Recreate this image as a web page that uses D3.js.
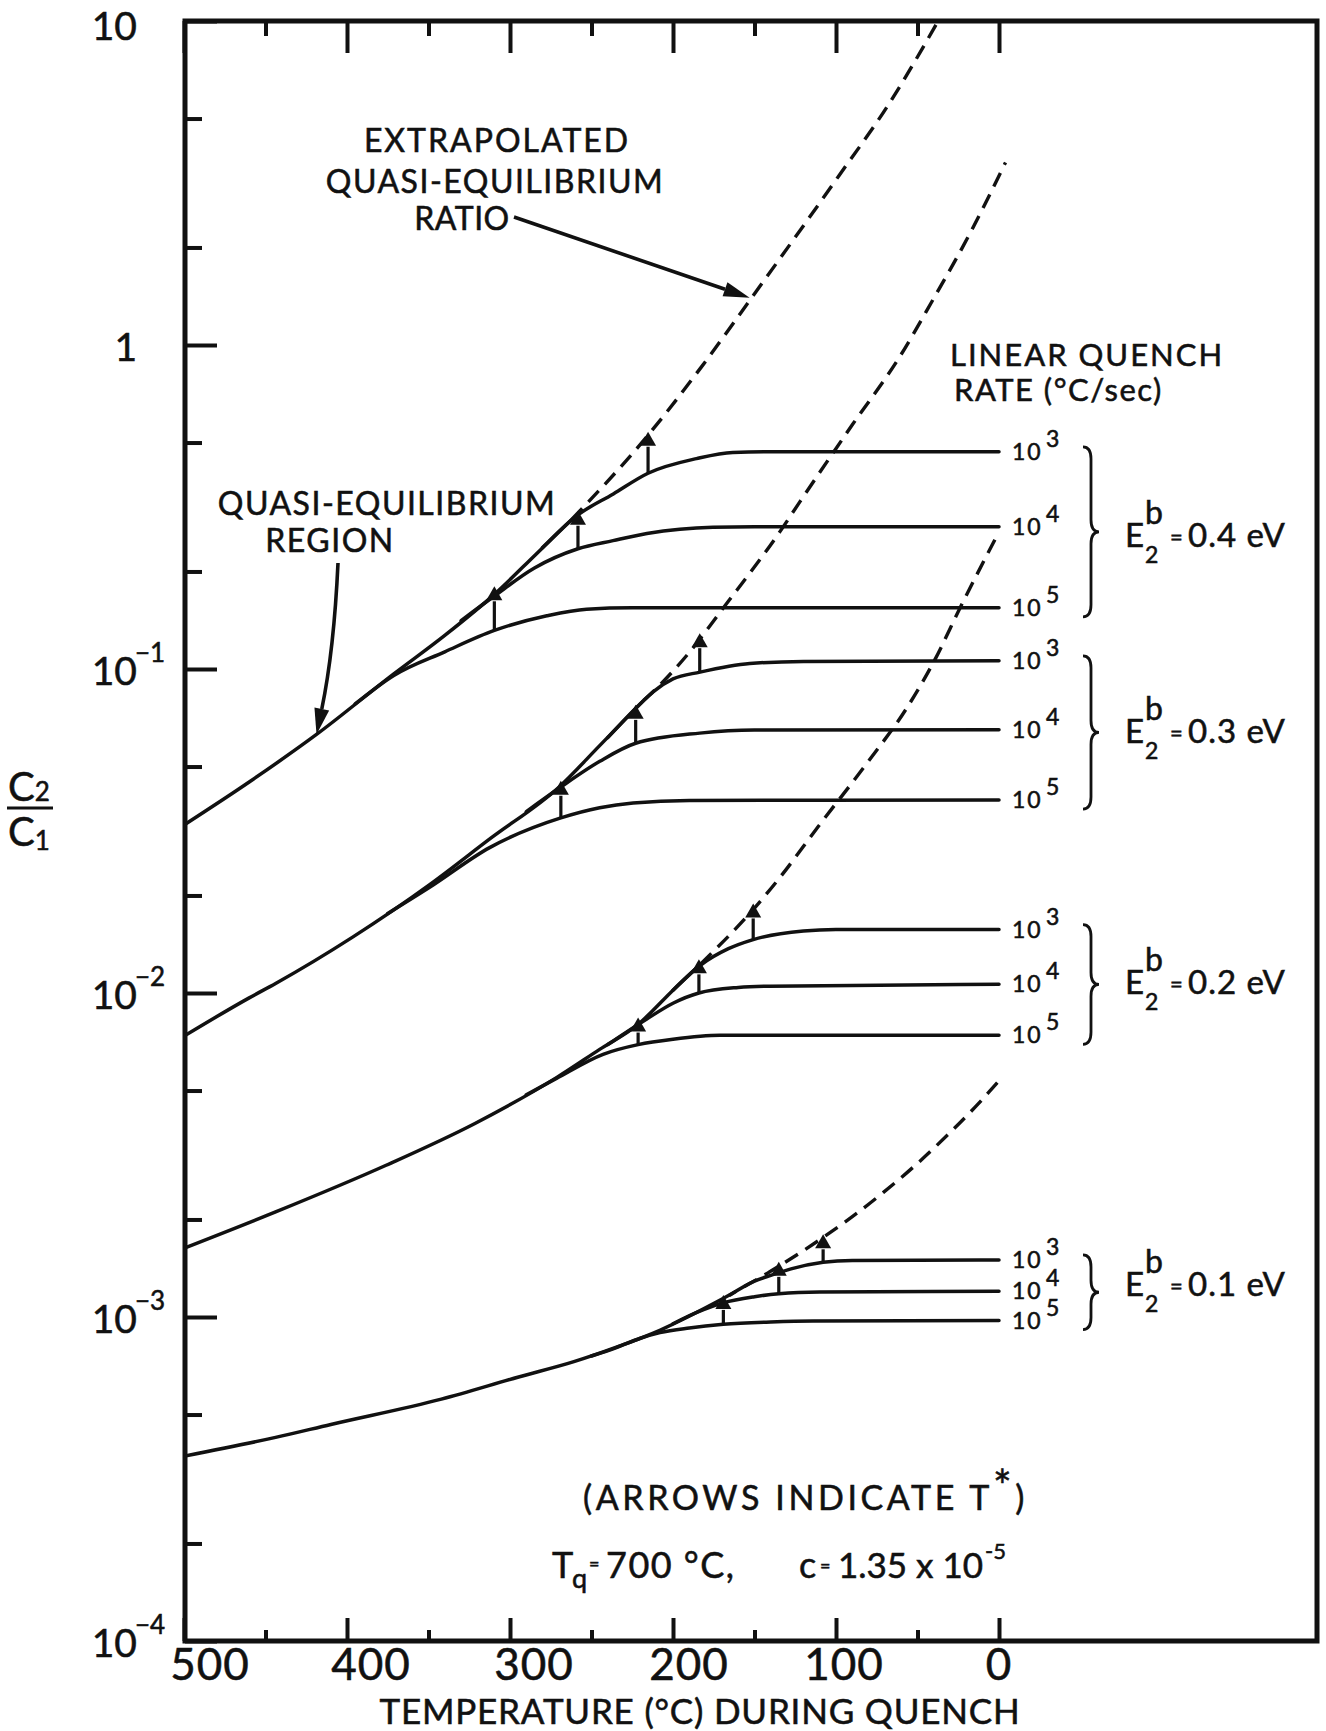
<!DOCTYPE html>
<html>
<head>
<meta charset="utf-8">
<title>C2/C1 during linear quench</title>
<script src="https://cdn.jsdelivr.net/npm/d3@7/dist/d3.min.js"></script>
<style>
  html, body { margin: 0; background: #fff; }
  svg { display: block; }
  text { font-family: Lato, "Open Sans", "DejaVu Sans", sans-serif; fill: #111; stroke: #111; stroke-width: 0.55; }
</style>
</head>
<body>
<svg id="chart" width="1326" height="1731"></svg>
<script>
// Temperature during quench (°C) against the concentration ratio C2/C1 (log scale)
const xMajorTicks = [500, 400, 300, 200, 100, 0];
const xMinorTicks = [450, 350, 250, 150, 50];
const yDecadeTicks = [1e-4, 1e-3, 1e-2, 1e-1, 1, 10];
const yDecadeLabels = [["10", "−4"], ["10", "−3"], ["10", "−2"], ["10", "−1"], ["1", ""], ["10", ""]];
const yMinorTicks = [2e-4, 5e-4, 2e-3, 5e-3, 2e-2, 5e-2, 0.2, 0.5, 2, 5];

const bindingEnergies = ["0.4", "0.3", "0.2", "0.1"];   // E2b in eV
const rateExponents = ["3", "4", "5"];                  // quench rate 10^n °C/sec

// --- E2b = 0.4 eV ---
const qeSolid04 = [[500, 0.0330], [460, 0.0448], [418.7, 0.0628], [371.3, 0.0966], [340, 0.127], [309.6, 0.170], [284.5, 0.225], [262, 0.290]];
const qeDash04 = [[262, 0.290], [216.8, 0.516], [183, 0.85], [149.1, 1.46], [98.2, 3.33], [68, 5.5], [37.3, 10]];
const rate3_04 = [[280, 0.237], [259.5, 0.296], [236.6, 0.347], [215.3, 0.402], [185.6, 0.446], [163.3, 0.466], [140, 0.468], [0, 0.468]];
const rate4_04 = [[330, 0.141], [309.6, 0.168], [285, 0.205], [258.3, 0.235], [236.8, 0.249], [216, 0.262], [175.5, 0.274], [150, 0.2748], [0, 0.2748]];
const rate5_04 = [[395, 0.078], [371.3, 0.0955], [340, 0.113], [309.6, 0.1315], [277.4, 0.146], [253, 0.153], [225, 0.1545], [0, 0.1545]];
const arrows04 = [[309.6, 0.1315, 0.180], [258.3, 0.235, 0.308], [215.3, 0.402, 0.54]];

// --- E2b = 0.3 eV ---
const qeSolid03 = [[500, 0.00736], [460, 0.00966], [443.8, 0.0107], [396.3, 0.0149], [349.3, 0.0216], [312, 0.0300], [269.5, 0.0434], [245, 0.058], [218, 0.080]];
const qeDash03 = [[218, 0.080], [210.2, 0.0871], [189.7, 0.113], [169.3, 0.154], [134.5, 0.265], [122.2, 0.328], [90, 0.567], [60.9, 0.92], [41.4, 1.355], [17, 2.25], [-4, 3.66]];
const rate3_03 = [[240, 0.0614], [220.2, 0.0780], [212, 0.0852], [200, 0.0932], [183.4, 0.0978], [152.9, 0.104], [120, 0.1055], [0, 0.106]];
const rate4_03 = [[290, 0.0363], [269.5, 0.0430], [244.9, 0.0519], [222.9, 0.0590], [183.6, 0.0634], [150, 0.0648], [0, 0.0649]];
const rate5_03 = [[375, 0.0176], [349.3, 0.0212], [312.5, 0.0281], [268.8, 0.0347], [245, 0.0373], [224.5, 0.0386], [190, 0.0393], [0, 0.0394]];
const arrows03 = [[268.8, 0.0347, 0.0452], [222.9, 0.0590, 0.0775], [183.6, 0.0978, 0.129]];

// --- E2b = 0.2 eV ---
const qeSolid02 = [[500, 0.00163], [443.8, 0.00211], [376, 0.00294], [321.8, 0.00395], [271.5, 0.00548], [245, 0.0067], [221.4, 0.0080], [200, 0.0102], [183, 0.0123]];
const qeDash02 = [[183, 0.0123], [150.8, 0.0181], [134.5, 0.0227], [111, 0.0326], [80, 0.052], [56.7, 0.0756], [39.4, 0.1067], [24, 0.154], [0, 0.265]];
const rate3_02 = [[200, 0.0102], [183, 0.0122], [166, 0.0137], [150.8, 0.01462], [120, 0.01553], [100, 0.0157], [0, 0.0157]];
const rate4_02 = [[240, 0.00693], [216.3, 0.0083], [200, 0.0093], [184.1, 0.0100], [160, 0.0104], [140.6, 0.0105], [0, 0.01064]];
const rate5_02 = [[290, 0.00485], [271.5, 0.00545], [242.9, 0.00647], [221.4, 0.00693], [200, 0.0072], [171.3, 0.0074], [0, 0.0074]];
const arrows02 = [[221.4, 0.00693, 0.0084], [184.1, 0.0100, 0.0127], [150.8, 0.01462, 0.0189]];

// --- E2b = 0.1 eV ---
const qeSolid01 = [[500, 3.72e-4], [443.8, 4.25e-4], [409.9, 4.66e-4], [342.1, 5.58e-4], [294.7, 6.53e-4], [260.8, 7.28e-4], [234.7, 8.07e-4], [208.1, 9.1e-4], [169.3, 1.14e-3]];
const qeDash01 = [[169.3, 1.14e-3], [134.5, 1.44e-3], [107.9, 1.76e-3], [90, 2.04e-3], [71.1, 2.42e-3], [50, 2.98e-3], [30, 3.71e-3], [13.8, 4.49e-3], [-1.7, 5.48e-3]];
const rate3_01 = [[165, 1.17e-3], [150, 1.29e-3], [140, 1.345e-3], [127, 1.41e-3], [107.9, 1.475e-3], [90, 1.495e-3], [0, 1.50e-3]];
const rate4_01 = [[200, 9.53e-4], [185, 1.035e-3], [169.1, 1.106e-3], [150, 1.155e-3], [135.1, 1.18e-3], [110, 1.195e-3], [0, 1.20e-3]];
const rate5_01 = [[250, 7.58e-4], [234.7, 8.05e-4], [220, 8.6e-4], [208, 8.95e-4], [190, 9.25e-4], [169.1, 9.49e-4], [140, 9.65e-4], [114, 9.72e-4], [0, 9.75e-4]];
const arrows01 = [[169.1, 9.49e-4, 1.17e-3], [135.1, 1.18e-3, 1.48e-3], [107.9, 1.475e-3, 1.80e-3]];

const families = [
  { e: bindingEnergies[0], qeSolid: qeSolid04, qeDash: qeDash04, rates: [rate3_04, rate4_04, rate5_04], arrows: arrows04, eShift: 20 },
  { e: bindingEnergies[1], qeSolid: qeSolid03, qeDash: qeDash03, rates: [rate3_03, rate4_03, rate5_03], arrows: arrows03, eShift: 13 },
  { e: bindingEnergies[2], qeSolid: qeSolid02, qeDash: qeDash02, rates: [rate3_02, rate4_02, rate5_02], arrows: arrows02, eShift: 10 },
  { e: bindingEnergies[3], qeSolid: qeSolid01, qeDash: qeDash01, rates: [rate3_01, rate4_01, rate5_01], arrows: arrows01, eShift: 5 }
];

// ---------- layout ----------
const frame = { left: 185, right: 1317, top: 21, bottom: 1641 };
const ink = "#111";
const x = d3.scaleLinear().domain([500, 0]).range([184, 999]);
const y = d3.scaleLog().domain([1e-4, 10]).range([1641, 21]);

const svg = d3.select("#chart");
svg.append("rect").attr("width", 1326).attr("height", 1731).attr("fill", "#fff");

svg.append("defs").append("clipPath").attr("id", "plotClip")
  .append("rect")
  .attr("x", frame.left).attr("y", frame.top)
  .attr("width", frame.right - frame.left).attr("height", frame.bottom - frame.top);

// ---------- axes ----------
function tickAxis(axis, transform, size, values) {
  const g = svg.append("g").attr("transform", transform)
    .call(axis.tickValues(values).tickSize(size).tickFormat(""));
  g.select(".domain").remove();
  g.selectAll(".tick line").attr("stroke", ink).attr("stroke-width", 4);
  return g;
}
tickAxis(d3.axisBottom(x), `translate(0,${frame.bottom})`, -23, xMajorTicks);
tickAxis(d3.axisBottom(x), `translate(0,${frame.bottom})`, -11, xMinorTicks);
tickAxis(d3.axisTop(x), `translate(0,${frame.top})`, -32, xMajorTicks);
tickAxis(d3.axisTop(x), `translate(0,${frame.top})`, -15, xMinorTicks);
tickAxis(d3.axisLeft(y), `translate(${frame.left},0)`, -32, yDecadeTicks);
tickAxis(d3.axisLeft(y), `translate(${frame.left},0)`, -17, yMinorTicks);

svg.append("rect")
  .attr("x", frame.left).attr("y", frame.top)
  .attr("width", frame.right - frame.left).attr("height", frame.bottom - frame.top)
  .attr("fill", "none").attr("stroke", ink).attr("stroke-width", 5);

// x tick labels
const xLabelNudge = { 500: 26, 400: 24, 300: 24, 200: 16, 100: 8, 0: 0 };
svg.append("g").selectAll("text").data(xMajorTicks).join("text")
  .attr("x", d => x(d) + xLabelNudge[d])
  .attr("y", 1680)
  .attr("text-anchor", "middle")
  .attr("font-size", 44)
  .attr("letter-spacing", 1)
  .text(d => d);

// y tick labels with exponents
const yl = svg.append("g");
yDecadeTicks.forEach((v, i) => {
  const [base, exp] = yDecadeLabels[i];
  yl.append("text").attr("x", 137).attr("y", Math.max(y(v) + 16, 40))
    .attr("text-anchor", "end").attr("font-size", 39).text(base);
  if (exp) {
    yl.append("text").attr("x", 135).attr("y", y(v) - 7)
      .attr("font-size", 26).text(exp);
  }
});

// axis titles
svg.append("text").attr("x", 700).attr("y", 1724).attr("text-anchor", "middle")
  .attr("font-size", 35).attr("letter-spacing", 0.8).text("TEMPERATURE (°C) DURING QUENCH");

const frac = svg.append("g").attr("transform", "translate(30,808)");
const fracTop = frac.append("text").attr("x", -22).attr("y", -7).attr("font-size", 40);
fracTop.append("tspan").text("C");
fracTop.append("tspan").attr("font-size", 26).text("2");
frac.append("line").attr("x1", -23).attr("x2", 23).attr("y1", 0).attr("y2", 0)
  .attr("stroke", ink).attr("stroke-width", 3);
const fracBot = frac.append("text").attr("x", -22).attr("y", 38).attr("font-size", 40);
fracBot.append("tspan").text("C");
fracBot.append("tspan").attr("font-size", 26).attr("dy", 4).text("1");

// ---------- curves ----------
const line = d3.line().x(d => x(d[0])).y(d => y(d[1])).curve(d3.curveMonotoneX);
const plot = svg.append("g").attr("clip-path", "url(#plotClip)");

function drawArrowHead(g, x1, y1, x2, y2, len, half) {
  const a = Math.atan2(y2 - y1, x2 - x1);
  const bx = x2 - len * Math.cos(a), by = y2 - len * Math.sin(a);
  const px = half * Math.sin(a), py = -half * Math.cos(a);
  g.append("path")
    .attr("d", `M${x2},${y2}L${bx + px},${by + py}L${bx - px},${by - py}Z`)
    .attr("fill", ink);
  return [bx, by];
}

families.forEach(f => {
  plot.append("path").datum(f.qeSolid).attr("d", line)
    .attr("fill", "none").attr("stroke", ink).attr("stroke-width", 3.5);
  plot.append("path").datum(f.qeDash).attr("d", line)
    .attr("fill", "none").attr("stroke", ink).attr("stroke-width", 3.4)
    .attr("stroke-dasharray", "15 9");
  f.rates.forEach(r => {
    plot.append("path").datum(r).attr("d", line)
      .attr("fill", "none").attr("stroke", ink).attr("stroke-width", 3.5)
      .attr("stroke-linecap", "round");
  });
  // T* arrows
  f.arrows.forEach(([t, from, to]) => {
    const ax = x(t), yb = y(from), yt = y(to);
    const [, hb] = drawArrowHead(plot, ax, yb, ax, yt, 14, 8);
    plot.append("line").attr("x1", ax).attr("x2", ax).attr("y1", yb).attr("y2", hb + 1)
      .attr("stroke", ink).attr("stroke-width", 3.2);
  });

  // rate labels at the right end of each plateau
  const ends = f.rates.map(r => y(r[r.length - 1][1]));
  f.rates.forEach((r, i) => {
    const yy = ends[i];
    svg.append("text").attr("x", 1012).attr("y", yy + 8).attr("font-size", 23)
      .attr("letter-spacing", 2).text("10");
    svg.append("text").attr("x", 1046).attr("y", yy - 5).attr("font-size", 23).text(rateExponents[i]);
  });

  // curly brace grouping the three rates
  const y0 = ends[0] - 5, y1 = ends[2] + 9, ym = (y0 + y1) / 2;
  const bx = 1083, w = 16, r = 12;
  const brace = `M${bx},${y0} Q${bx + w / 2},${y0} ${bx + w / 2},${y0 + r}
    L${bx + w / 2},${ym - r} Q${bx + w / 2},${ym} ${bx + w},${ym}
    Q${bx + w / 2},${ym} ${bx + w / 2},${ym + r}
    L${bx + w / 2},${y1 - r} Q${bx + w / 2},${y1} ${bx},${y1}`;
  svg.append("path").attr("d", brace).attr("fill", "none")
    .attr("stroke", ink).attr("stroke-width", 2.8);

  // E2b label
  const base = ends[1] + f.eShift;
  svg.append("text").attr("x", 1125).attr("y", base).attr("font-size", 33).text("E");
  svg.append("text").attr("x", 1145).attr("y", base - 23).attr("font-size", 32).text("b");
  svg.append("text").attr("x", 1145).attr("y", base + 16).attr("font-size", 23).text("2");
  svg.append("text").attr("x", 1170).attr("y", base - 2).attr("font-size", 22).text("=");
  svg.append("text").attr("x", 1188).attr("y", base).attr("font-size", 33)
    .attr("letter-spacing", 1).text(`${f.e} eV`);
});

// ---------- annotations ----------
const capText = (tx, ty, str, size, anchor, spacing) =>
  svg.append("text").attr("x", tx).attr("y", ty).attr("font-size", size)
    .attr("text-anchor", anchor).attr("letter-spacing", spacing).text(str);

capText(497, 152, "EXTRAPOLATED", 32, "middle", 2);
capText(495, 193, "QUASI-EQUILIBRIUM", 32, "middle", 1.5);
capText(462, 230, "RATIO", 32, "middle", 0.5);

const lead = svg.append("g");
{
  const x1 = 514, y1 = 217, x2 = x(153), y2 = y(1.40);
  const [hx, hy] = drawArrowHead(lead, x1, y1, x2, y2, 26, 7.5);
  lead.append("line").attr("x1", x1).attr("y1", y1).attr("x2", hx).attr("y2", hy)
    .attr("stroke", ink).attr("stroke-width", 3.6);
}

capText(387, 515, "QUASI-EQUILIBRIUM", 32, "middle", 1.5);
capText(330, 552, "REGION", 32, "middle", 1.5);
{
  const x2 = x(418.7), y2 = y(0.0628);
  const cx = 334, cy = 650;
  const [hx, hy] = drawArrowHead(lead, cx, cy, x2, y2, 26, 7.5);
  lead.append("path").attr("d", `M338,563 Q${cx},${cy} ${hx},${hy}`)
    .attr("fill", "none").attr("stroke", ink).attr("stroke-width", 3.6);
}

capText(950, 366, "LINEAR QUENCH", 31, "start", 2);
capText(954, 401, "RATE (°C/sec)", 31, "start", 1.5);

const arrowsNote = svg.append("text").attr("x", 583).attr("y", 1510)
  .attr("font-size", 34).attr("letter-spacing", 3.6);
arrowsNote.append("tspan").text("(ARROWS INDICATE T");
arrowsNote.append("tspan").attr("font-size", 44).attr("dy", -8).text("*");
arrowsNote.append("tspan").attr("dy", 8).text(")");

// quench conditions line
const condBase = 1578;
capText(552, condBase, "T", 36, "start", 0);
capText(572, condBase + 10, "q", 27, "start", 0);
capText(589, condBase - 8, "=", 18, "start", 0);
capText(606, condBase, "700 °C,", 36, "start", 1.5);
capText(799, condBase, "c", 36, "start", 0);
capText(820, condBase - 6, "=", 18, "start", 0);
const mant = capText(838, condBase, "1.35 x 10", 35, "start", 0);
const mantEnd = 838 + mant.node().getComputedTextLength();
capText(mantEnd + 2, condBase - 19, "-5", 22, "start", 0);
</script>
</body>
</html>
